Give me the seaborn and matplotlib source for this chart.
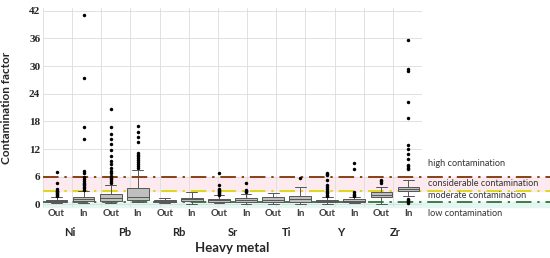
import numpy as np
import pandas as pd
import seaborn as sns
import matplotlib.pyplot as plt
from matplotlib.ticker import FixedLocator

metals = ["Ni", "Pb", "Rb", "Sr", "Ti", "Y", "Zr"]
sites = ["Out", "In"]

# box bodies (min .. max of the whisker range) and the outlying points, per group
ni_out = [0.2, 0.4, 0.6, 0.7, 0.8, 0.9, 1.0, 1.3, 1.6]
ni_out_fliers = [7.1, 4.6, 3.3, 3.0, 2.8, 2.6, 2.4, 2.2, 2.0, 1.8]
ni_in = [0.3, 0.5, 0.7, 1.0, 1.2, 1.4, 1.7, 2.4, 3.0]
ni_in_fliers = [41.1, 27.3, 16.7, 14.1, 7.3, 6.7, 5.9, 5.5, 5.1, 4.7, 4.4, 4.1, 3.8, 3.5, 3.2]
pb_out = [0.4, 0.5, 0.7, 1.0, 1.3, 1.8, 2.3, 3.2, 4.2]
pb_out_fliers = [20.7, 16.7, 15.3, 14.1, 13.0, 11.8, 10.6, 9.5, 8.8, 8.0, 7.3, 6.9, 6.1, 5.7, 5.4, 5.0, 4.6]
pb_in = [0.5, 0.8, 1.0, 1.2, 1.5, 2.6, 3.6, 5.5, 7.4]
pb_in_fliers = [16.9, 15.8, 14.7, 13.6, 11.2, 10.8, 10.4, 10.0, 9.6, 9.2, 8.8, 8.4, 8.0]
rb_out = [0.2, 0.35, 0.5, 0.6, 0.7, 0.8, 0.9, 1.1, 1.4]
rb_out_fliers = []
rb_in = [0.1, 0.5, 0.8, 0.95, 1.1, 1.25, 1.4, 2.0, 2.6]
rb_in_fliers = []
sr_out = [0.2, 0.4, 0.6, 0.75, 0.9, 1.05, 1.2, 1.6, 2.0]
sr_out_fliers = [6.9, 4.2, 3.4, 3.1, 2.9, 2.7, 2.5, 2.3, 2.1]
sr_in = [0.1, 0.4, 0.6, 0.75, 0.9, 1.1, 1.3, 1.8, 2.3]
sr_in_fliers = [4.7, 3.2, 3.0, 2.8, 2.6]
ti_out = [0.1, 0.3, 0.5, 0.75, 1.0, 1.3, 1.6, 2.0, 2.4]
ti_out_fliers = []
ti_in = [0.0, 0.3, 0.6, 0.9, 1.2, 1.5, 1.8, 2.8, 3.8]
ti_in_fliers = [5.8]
y_out = [0.1, 0.3, 0.5, 0.6, 0.7, 0.85, 1.0, 1.3, 1.6]
y_out_fliers = [6.9, 6.6, 6.3, 5.3, 4.2, 3.7, 3.3, 3.0, 2.7, 2.4, 2.1, 1.9]
y_in = [0.2, 0.35, 0.5, 0.65, 0.8, 0.95, 1.1, 1.4, 1.7]
y_in_fliers = [8.9, 7.6, 2.6, 2.3, 2.1, 1.9]
zr_out = [0.1, 0.9, 1.6, 1.85, 2.1, 2.35, 2.6, 3.2, 3.8]
zr_out_fliers = [5.3, 5.0, 4.7]
zr_in = [1.8, 2.3, 2.8, 3.05, 3.3, 3.5, 3.7, 4.5, 5.2]
zr_in_fliers = [35.7, 29.4, 29.0, 22.1, 18.7, 12.9, 12.0, 10.9, 9.8, 8.6, 8.3, 8.0, 7.7,
                1.2, 1.0, 0.8, 0.6, 0.4]

boxes = [ni_out, ni_in, pb_out, pb_in, rb_out, rb_in, sr_out, sr_in,
         ti_out, ti_in, y_out, y_in, zr_out, zr_in]
fliers = [ni_out_fliers, ni_in_fliers, pb_out_fliers, pb_in_fliers, rb_out_fliers, rb_in_fliers,
          sr_out_fliers, sr_in_fliers, ti_out_fliers, ti_in_fliers, y_out_fliers, y_in_fliers,
          zr_out_fliers, zr_in_fliers]

levels = [6, 3, 0.6]
level_colors = ["#8a3f17", "#dcd81a", "#3c7d44"]
band_names = ["high contamination", "considerable contamination",
              "moderate contamination", "low contamination"]
band_text_y = [8.8, 4.6, 2.0, -1.9]


def main():
    sns.set_theme(style="white")
    plt.rcParams["font.family"] = ["Lato", "DejaVu Sans"]

    groups = [f"{m} {s}" for m in metals for s in sites]
    box_df = pd.DataFrame(
        [(g, v) for g, vals in zip(groups, boxes) for v in vals], columns=["group", "value"]
    )
    flier_df = pd.DataFrame(
        [(g, v) for g, vals in zip(groups, fliers) for v in vals], columns=["group", "value"]
    )

    fig = plt.figure(figsize=(5.5, 2.58), dpi=100)
    ax = fig.add_axes([43 / 550, 1 - 206.7 / 258, 379 / 550, 198.3 / 258])

    # contamination bands and thresholds, running out past the plot to the labels
    ax.axhspan(3, 6, xmin=0, xmax=1.34, color="#fdeaee", zorder=0, clip_on=False)
    ax.axhspan(-0.5, levels[2], xmin=0, xmax=1.34, color="#e4f6f1", zorder=0, clip_on=False)
    for lvl, col in zip(levels, level_colors):
        ax.axhline(lvl, xmin=0, xmax=1.34, color=col, lw=1.4,
                   ls=(0, (8, 3, 1.2, 3)), zorder=1, clip_on=False)

    sns.boxplot(
        data=box_df, x="group", y="value", order=groups, ax=ax,
        whis=(0, 100), width=0.8, showfliers=False, linewidth=0.7,
        color="#bfbfbf", linecolor="#555555", zorder=3,
    )
    sns.stripplot(
        data=flier_df, x="group", y="value", order=groups, ax=ax,
        jitter=False, color="black", size=2.5, zorder=4,
    )

    ax.set_xlim(-0.5, 13.5)
    ax.set_ylim(-0.5, 42.5)
    ax.set_yticks(np.arange(0, 43, 6))
    ax.set_yticklabels([str(t) for t in range(0, 43, 6)],
                       fontfamily="Liberation Serif", fontweight="bold", fontsize=8)
    ax.set_xticks(range(len(groups)))
    ax.set_xticklabels([s for m in metals for s in sites], fontweight="bold",
                       fontsize=7, color="#404040")
    ax.tick_params(axis="both", length=0, pad=2)

    ax.xaxis.set_minor_locator(FixedLocator(np.linspace(-0.5, 13.5, 14)))
    ax.grid(which="minor", axis="x", color="#dcdcdc", lw=0.6, zorder=0)
    ax.grid(which="major", axis="y", color="#dcdcdc", lw=0.6, zorder=0)
    ax.set_axisbelow(True)
    for sp in ax.spines.values():
        sp.set_visible(False)

    for i, m in enumerate(metals):
        ax.text(2 * i + 0.5, -0.128, m, transform=ax.get_xaxis_transform(),
                ha="center", va="center", fontweight="bold", fontsize=8)

    for name, yv in zip(band_names, band_text_y):
        ax.text(1.016, yv, name, transform=ax.get_yaxis_transform(),
                ha="left", va="center", fontsize=6.6, color="#333333", clip_on=False)

    ax.set_xlabel("Heavy metal", fontweight="bold", fontsize=9.5)
    ax.xaxis.set_label_coords(0.5, -0.18)
    ax.set_ylabel("Contamination factor", fontweight="bold", fontsize=8.5)
    ax.yaxis.set_label_coords(-0.083, 0.5)

    fig.savefig("out.png", dpi=100)


if __name__ == '__main__':
    main()
